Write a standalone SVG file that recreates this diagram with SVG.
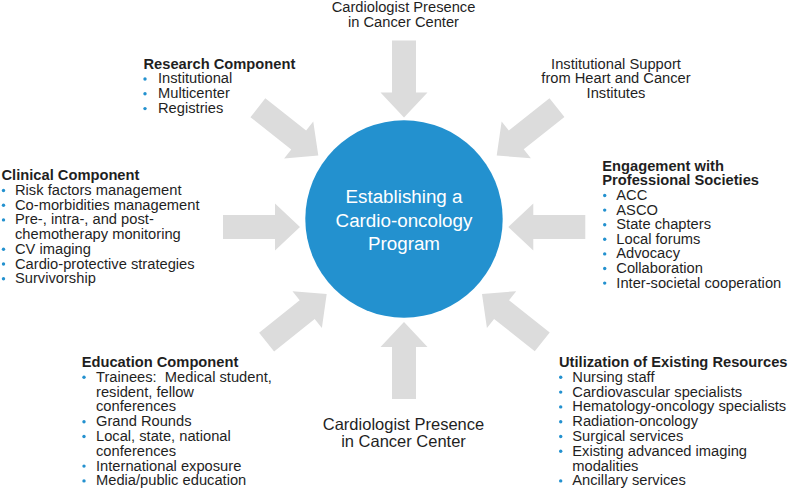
<svg xmlns="http://www.w3.org/2000/svg" xmlns:xlink="http://www.w3.org/1999/xlink" width="788" height="491" viewBox="0 0 788 491">
<style>
text{font-family:"Liberation Sans",Arial,sans-serif;font-size:14.7px;fill:#1f1f1f}
.h{font-weight:bold}
.c{text-anchor:middle}
.w{fill:#ffffff;font-size:18.8px}
.big{font-size:16.5px}
.b{fill:#2391cf}
.arr{fill:#dcdcdc}
</style>
<defs>
<path id="arrow" d="M-77,-12 H-25 V-23.5 L0,0 L-25,23.5 V12 H-77 Z"/>
</defs>
<g id="connectors" class="arr">
<use xlink:href="#arrow" transform="translate(404,117.5) rotate(90)"/>
<use xlink:href="#arrow" transform="translate(404,322) rotate(-90)"/>
<use xlink:href="#arrow" transform="translate(300,227)"/>
<use xlink:href="#arrow" transform="translate(508.3,227) rotate(180)"/>
<use xlink:href="#arrow" transform="translate(318.3,155.5) rotate(38.3)"/>
<use xlink:href="#arrow" transform="translate(496.7,155.5) rotate(141.5)"/>
<use xlink:href="#arrow" transform="translate(326.7,294) rotate(-38.7)"/>
<use xlink:href="#arrow" transform="translate(482,294) rotate(-141.5)"/>
</g>
<g id="center">
<circle cx="404" cy="219" r="98.7" fill="#2391cf"/>
<text class="c w" x="404" y="203.3">Establishing a</text>
<text class="c w" x="404" y="226.5">Cardio-oncology</text>
<text class="c w" x="404" y="249.5">Program</text>
</g>
<g id="cardiologist-top">
<text class="c" x="403.5" y="12">Cardiologist Presence</text>
<text class="c" x="403.5" y="26.7">in Cancer Center</text>
</g>
<g id="cardiologist-bottom">
<text class="c big" x="403.5" y="430.3">Cardiologist Presence</text>
<text class="c big" x="403.5" y="446.9">in Cancer Center</text>
</g>
<g id="institutional-support">
<text class="c" x="616" y="68.7">Institutional Support</text>
<text class="c" x="616" y="83.3">from Heart and Cancer</text>
<text class="c" x="616" y="98">Institutes</text>
</g>
<g id="research">
<text class="h" x="143.5" y="68.5">Research Component</text>
<circle class="b" cx="145" cy="79" r="1.7"/><text x="158" y="83.4">Institutional</text>
<circle class="b" cx="145" cy="93.8" r="1.7"/><text x="158" y="98.2">Multicenter</text>
<circle class="b" cx="145" cy="108.6" r="1.7"/><text x="158" y="113">Registries</text>
</g>
<g id="clinical">
<text class="h" x="1.5" y="180.3">Clinical Component</text>
<circle class="b" cx="3.5" cy="190.5" r="1.7"/><text x="15" y="195">Risk factors management</text>
<circle class="b" cx="3.5" cy="205.2" r="1.7"/><text x="15" y="209.7">Co-morbidities management</text>
<circle class="b" cx="3.5" cy="219.9" r="1.7"/><text x="15" y="224.4">Pre-, intra-, and post-</text>
<text x="15" y="239.1">chemotherapy monitoring</text>
<circle class="b" cx="3.5" cy="249.3" r="1.7"/><text x="15" y="253.8">CV imaging</text>
<circle class="b" cx="3.5" cy="264" r="1.7"/><text x="15" y="268.5">Cardio-protective strategies</text>
<circle class="b" cx="3.5" cy="278.7" r="1.7"/><text x="15" y="283.2">Survivorship</text>
</g>
<g id="engagement">
<text class="h" x="602.3" y="170.7">Engagement with</text>
<text class="h" x="602.3" y="185.3">Professional Societies</text>
<circle class="b" cx="604.7" cy="195.5" r="1.7"/><text x="616.3" y="200">ACC</text>
<circle class="b" cx="604.7" cy="210.1" r="1.7"/><text x="616.3" y="214.6">ASCO</text>
<circle class="b" cx="604.7" cy="224.7" r="1.7"/><text x="616.3" y="229.2">State chapters</text>
<circle class="b" cx="604.7" cy="239.3" r="1.7"/><text x="616.3" y="243.8">Local forums</text>
<circle class="b" cx="604.7" cy="253.9" r="1.7"/><text x="616.3" y="258.4">Advocacy</text>
<circle class="b" cx="604.7" cy="268.5" r="1.7"/><text x="616.3" y="273">Collaboration</text>
<circle class="b" cx="604.7" cy="283.1" r="1.7"/><text x="616.3" y="287.6">Inter-societal cooperation</text>
</g>
<g id="education">
<text class="h" x="81.7" y="367">Education Component</text>
<circle class="b" cx="84" cy="377.3" r="1.7"/><text x="96" y="381.8" xml:space="preserve">Trainees:  Medical student,</text>
<text x="96" y="396.6">resident, fellow</text>
<text x="96" y="411.4">conferences</text>
<circle class="b" cx="84" cy="421.7" r="1.7"/><text x="96" y="426.2">Grand Rounds</text>
<circle class="b" cx="84" cy="436.5" r="1.7"/><text x="96" y="441">Local, state, national</text>
<text x="96" y="455.8">conferences</text>
<circle class="b" cx="84" cy="466.1" r="1.7"/><text x="96" y="470.6">International exposure</text>
<circle class="b" cx="84" cy="480.9" r="1.7"/><text x="96" y="485.4">Media/public education</text>
</g>
<g id="utilization">
<text class="h" x="559" y="367">Utilization of Existing Resources</text>
<circle class="b" cx="560.7" cy="377.3" r="1.7"/><text x="572.3" y="381.8">Nursing staff</text>
<circle class="b" cx="560.7" cy="392.1" r="1.7"/><text x="572.3" y="396.6">Cardiovascular specialists</text>
<circle class="b" cx="560.7" cy="406.9" r="1.7"/><text x="572.3" y="411.4">Hematology-oncology specialists</text>
<circle class="b" cx="560.7" cy="421.7" r="1.7"/><text x="572.3" y="426.2">Radiation-oncology</text>
<circle class="b" cx="560.7" cy="436.5" r="1.7"/><text x="572.3" y="441">Surgical services</text>
<circle class="b" cx="560.7" cy="451.3" r="1.7"/><text x="572.3" y="455.8">Existing advanced imaging</text>
<text x="572.3" y="470.6">modalities</text>
<circle class="b" cx="560.7" cy="480.9" r="1.7"/><text x="572.3" y="485.4">Ancillary services</text>
</g>
</svg>
